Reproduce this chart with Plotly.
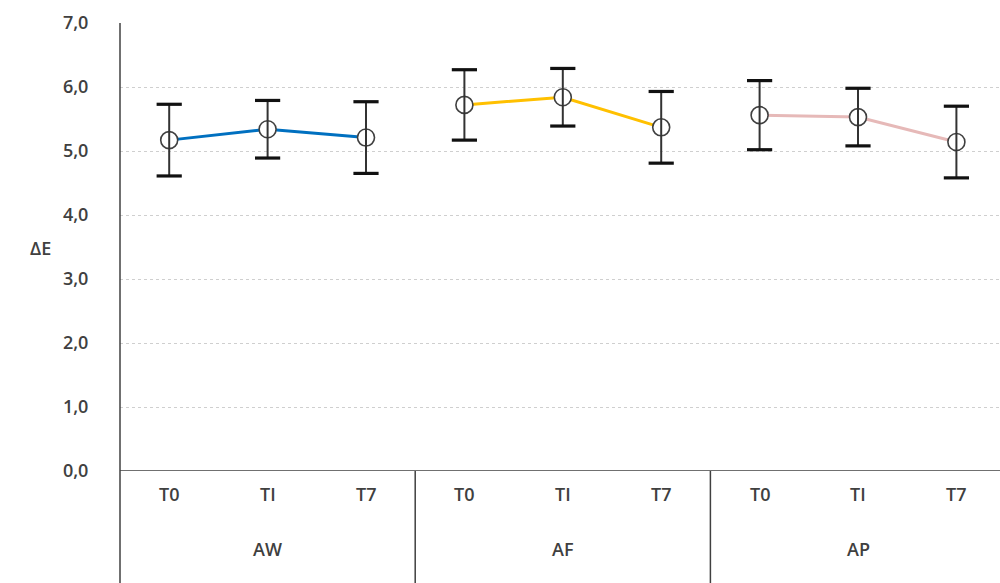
import plotly.graph_objects as go

# Groups and time points
groups = ["AW", "AF", "AP"]
times = ["T0", "TI", "T7"]

# Mean ΔE and standard deviation per group
aw_mean = [5.17, 5.34, 5.21]
aw_sd = [0.56, 0.45, 0.56]
af_mean = [5.72, 5.84, 5.37]
af_sd = [0.55, 0.45, 0.56]
ap_mean = [5.56, 5.53, 5.14]
ap_sd = [0.54, 0.45, 0.56]

y_ticks = [0, 1, 2, 3, 4, 5, 6, 7]
y_ticktext = ["0,0", "1,0", "2,0", "3,0", "4,0", "5,0", "6,0", "7,0"]

series = [
    ("AW", aw_mean, aw_sd, "#0070C0"),
    ("AF", af_mean, af_sd, "#FFC000"),
    ("AP", ap_mean, ap_sd, "#E6B9B8"),
]

FONT = "Open Sans"
TXT = "#404040"
FS = 18

fig = go.Figure()
n_t = len(times)
for gi, (name, mean, sd, color) in enumerate(series):
    xs = [gi * n_t + k for k in range(n_t)]
    fig.add_trace(go.Scatter(
        x=xs, y=mean, mode="lines+markers", name=name,
        line=dict(color=color, width=3),
        marker=dict(symbol="circle", size=17, color="white",
                    line=dict(color="#404040", width=1.6)),
        showlegend=False, hoverinfo="skip",
    ))
    # error bar stems drawn above the markers
    fig.add_trace(go.Scatter(
        x=xs, y=mean, mode="markers",
        marker=dict(size=1, color="rgba(0,0,0,0)"),
        error_y=dict(type="data", array=sd, visible=True,
                     color="#333333", thickness=2, width=0),
        showlegend=False, hoverinfo="skip",
    ))
    # heavy end caps at mean ± sd
    caps_y = [m + s for m, s in zip(mean, sd)] + [m - s for m, s in zip(mean, sd)]
    fig.add_trace(go.Scatter(
        x=xs + xs, y=caps_y, mode="markers",
        marker=dict(symbol="line-ew", size=18, line=dict(color="#111111", width=3.2)),
        showlegend=False, hoverinfo="skip",
    ))

L, T, B = 120, 23, 112
W, H = 1000, 583
plot_h = H - T - B
px_per_cat = 98.4
x_right = -0.5 + (W - L) / px_per_cat

shapes = []
# category axis baseline
shapes.append(dict(type="line", xref="paper", yref="y", x0=0, x1=1, y0=0, y1=0,
                   line=dict(color="#404040", width=1.5)))
# left axis line extending through category area
shapes.append(dict(type="line", xref="paper", yref="paper", x0=0, x1=0,
                   y0=-B / plot_h - 0.02, y1=1, line=dict(color="#404040", width=1.5)))
# group dividers
for gi in range(1, len(groups)):
    xd = gi * n_t - 0.5
    shapes.append(dict(type="line", xref="x", yref="paper", x0=xd, x1=xd,
                       y0=-B / plot_h - 0.02, y1=0, line=dict(color="#404040", width=1.5)))

annotations = []
for gi, g in enumerate(groups):
    for k, t in enumerate(times):
        annotations.append(dict(x=gi * n_t + k, y=(470.7 - 508) / plot_h, xref="x", yref="paper",
                                text=t, showarrow=False,
                                font=dict(family=FONT, size=FS, color=TXT, weight=600)))
    annotations.append(dict(x=gi * n_t + 1, y=(470.7 - 563) / plot_h, xref="x", yref="paper",
                            text=g, showarrow=False,
                            font=dict(family=FONT, size=FS, color=TXT, weight=600)))
annotations.append(dict(x=(28 - L) / (W - L), y=3.48, xref="paper", yref="y",
                        text="ΔE", showarrow=False,
                        font=dict(family=FONT, size=FS, color=TXT, weight=600)))

fig.update_layout(
    width=W, height=H,
    margin=dict(l=L, r=0, t=T, b=B),
    paper_bgcolor="white", plot_bgcolor="white",
    shapes=shapes, annotations=annotations,
    xaxis=dict(range=[-0.5, x_right], showticklabels=False, showgrid=False,
               zeroline=False, showline=False, fixedrange=True),
    yaxis=dict(range=[0, 7], tickvals=y_ticks, ticktext=y_ticktext,
               showgrid=True, gridcolor="#cfcfcf", griddash="dot", gridwidth=1,
               zeroline=False, showline=False, ticks="outside", ticklen=0,
               ticklabelstandoff=27,
               tickfont=dict(family=FONT, size=FS, color=TXT, weight=600)),
)

fig.write_html("out.html")
